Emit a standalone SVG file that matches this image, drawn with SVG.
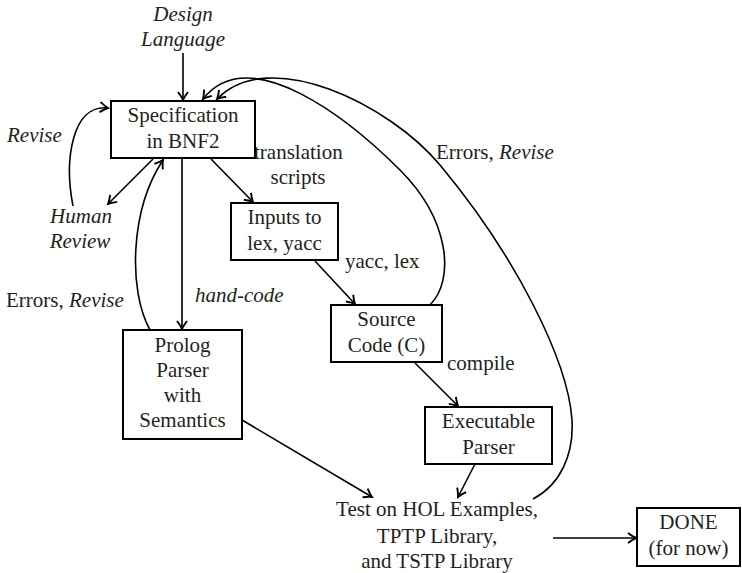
<svg xmlns="http://www.w3.org/2000/svg" width="742" height="573" viewBox="0 0 742 573">
  <style>
    .it { font-style: italic; }
    .mid { text-anchor: middle; }
    .box { fill: #fff; stroke: #000; stroke-width: 2; }
    .edge { fill: none; stroke: #000; stroke-width: 1.6; marker-end: url(#ah); }
  </style>
  <defs>
    <marker id="ah" viewBox="-9 -6 11 12" refX="0" refY="0" markerWidth="11" markerHeight="12" markerUnits="userSpaceOnUse" orient="auto">
      <path d="M-8,-5 Q-3,-1.2 0,0 Q-3,1.2 -8,5" fill="none" stroke="#000" stroke-width="1.9"/>
    </marker>
  </defs>

  <!-- connectors -->
  <g id="connectors">
    <path class="edge" d="M183,53 L183,100"/>
    <path class="edge" d="M153,159 L108,204"/>
    <path class="edge" d="M73,206 C64,160 72,104 108,108"/>
    <path class="edge" d="M211,159 L253,202"/>
    <path class="edge" d="M182,159 L182,329"/>
    <path class="edge" d="M150,330 C128,290 130,210 163,160"/>
    <path class="edge" d="M315,261 L355,304"/>
    <path class="edge" d="M415,363 L458,406"/>
    <path class="edge" d="M430,305 C455,280 450,220 400,170 C350,120 250,40 203,99"/>
    <path class="edge" d="M475,464 L458,497"/>
    <path class="edge" d="M242,420 L372,497"/>
    <path class="edge" d="M533,499 C560,485 574,455 572,420 C568,360 515,255 440,165 C390,105 270,45 217,99"/>
    <path class="edge" d="M553,538 L636,538"/>
  </g>

  <g font-family="'Liberation Serif', Tinos, 'Times New Roman', 'DejaVu Serif', serif" font-size="21" fill="#231f20">
    <!-- edge labels -->
    <g id="labels">
      <text class="it mid" x="183" y="21">Design</text>
      <text class="it mid" x="183" y="46">Language</text>
      <text class="it" x="7" y="142">Revise</text>
      <text class="it mid" x="81" y="223">Human</text>
      <text class="it mid" x="80" y="248">Review</text>
      <text x="254" y="159">translation</text>
      <text class="mid" x="298" y="184">scripts</text>
      <text x="436" y="159">Errors, <tspan class="it">Revise</tspan></text>
      <text x="345" y="268">yacc, lex</text>
      <text class="it" x="195" y="302">hand-code</text>
      <text x="6" y="307">Errors, <tspan class="it">Revise</tspan></text>
      <text x="447" y="370">compile</text>
    </g>

    <g id="spec">
      <rect class="box" x="111" y="101" width="144" height="57"/>
      <text class="mid" x="183" y="122">Specification</text>
      <text class="mid" x="183" y="148">in BNF2</text>
    </g>

    <g id="inputs">
      <rect class="box" x="231" y="203" width="107" height="57"/>
      <text class="mid" x="284.5" y="224">Inputs to</text>
      <text class="mid" x="284.5" y="250">lex, yacc</text>
    </g>

    <g id="prolog">
      <rect class="box" x="123" y="330" width="119" height="109"/>
      <text class="mid" x="182.5" y="352">Prolog</text>
      <text class="mid" x="182.5" y="377">Parser</text>
      <text class="mid" x="182.5" y="402">with</text>
      <text class="mid" x="182.5" y="427">Semantics</text>
    </g>

    <g id="source">
      <rect class="box" x="331" y="305" width="111" height="57"/>
      <text class="mid" x="386.5" y="326">Source</text>
      <text class="mid" x="386.5" y="352">Code (C)</text>
    </g>

    <g id="executable">
      <rect class="box" x="425" y="407" width="127" height="57"/>
      <text class="mid" x="488.5" y="428">Executable</text>
      <text class="mid" x="488.5" y="454">Parser</text>
    </g>

    <g id="test">
      <text class="mid" x="437" y="516">Test on HOL Examples,</text>
      <text class="mid" x="437" y="543">TPTP Library,</text>
      <text class="mid" x="437" y="568">and TSTP Library</text>
    </g>

    <g id="done">
      <rect class="box" x="637" y="508" width="103" height="58"/>
      <text class="mid" x="688.5" y="529">DONE</text>
      <text class="mid" x="688.5" y="555">(for now)</text>
    </g>
  </g>
</svg>
